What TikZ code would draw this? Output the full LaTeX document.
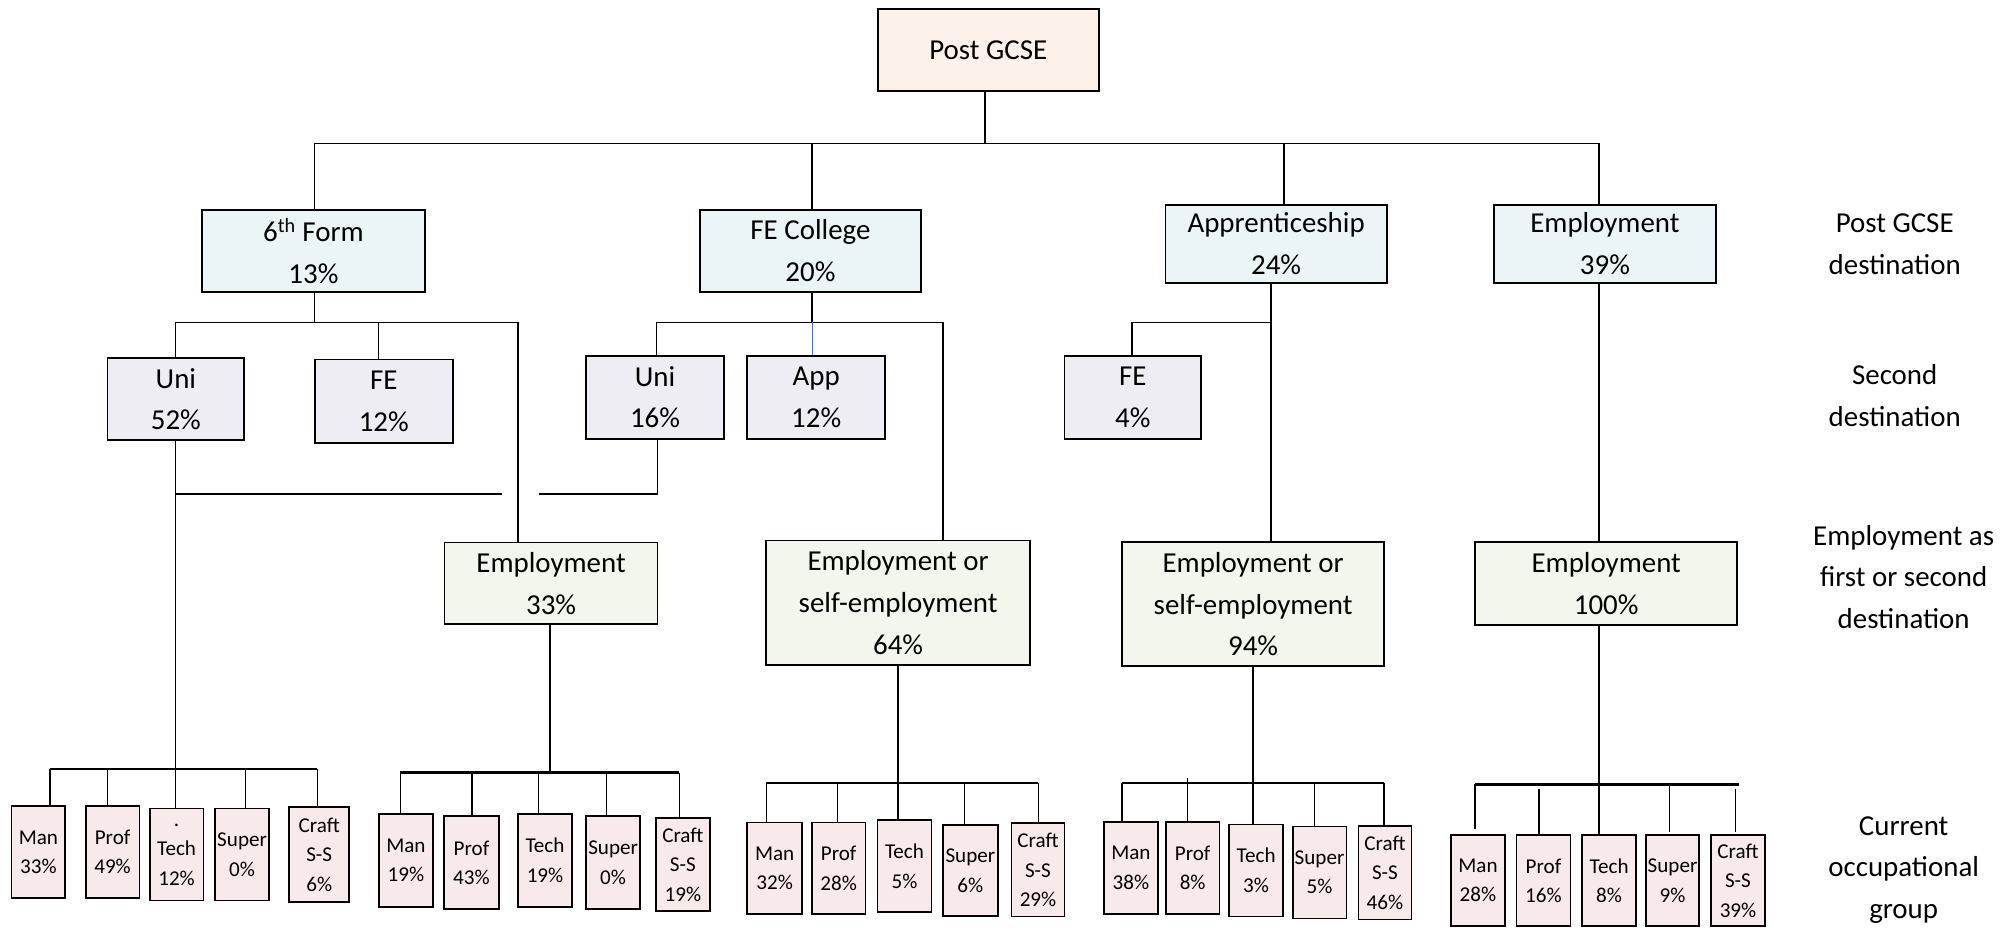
\documentclass[tikz,border=0pt]{standalone}
\usepackage{fontspec}
\setmainfont{Carlito}
\definecolor{peach}{HTML}{FDF2E9}
\definecolor{lblue}{HTML}{EBF4F7}
\definecolor{lav}{HTML}{EFEDF4}
\definecolor{lgreen}{HTML}{F2F6EC}
\definecolor{pinkc}{HTML}{F8EAEA}
\definecolor{linkblue}{HTML}{4472C4}
\begin{document}
\begin{tikzpicture}[x=1pt,y=-1pt,
  sz/.style 2 args={minimum width=#1pt,minimum height=#2pt},
  box/.style={draw=black,line width=1.4pt,inner sep=0pt,align=center,anchor=center},
  big/.style={box,font=\fontsize{22.6}{32.5}\selectfont},
  small/.style={box,font=\fontsize{16.5}{23}\selectfont,fill=pinkc,line width=1.3pt},
  lab/.style={inner sep=0pt,align=center,font=\fontsize{22.6}{32.5}\selectfont},
  conn/.style={draw=black,line width=1.2pt},
  barline/.style={draw=black,line width=2pt}]
\useasboundingbox (0,0) rectangle (1568,726);

% ---------- boxes ----------
\node[big,fill=peach,sz={173}{64}] (post) at (772.5,39) {Post GCSE};
\node[big,fill=lblue,sz={174}{64}] (sixth) at (245,196) {6\textsuperscript{th} Form\\13\%};
\node[big,fill=lblue,sz={173}{64}] (fecol) at (633.5,196) {FE College\\20\%};
\node[big,fill=lblue,sz={173}{61}] (appr) at (997.5,190.5) {Apprenticeship\\24\%};
\node[big,fill=lblue,sz={173}{61}] (empl) at (1254.5,190.5) {Employment\\39\%};

\node[big,fill=lav,sz={107}{64}] (uniA) at (137.5,312) {Uni\\52\%};
\node[big,fill=lav,sz={108}{65}] (feA) at (300,313.5) {FE\\12\%};
\node[big,fill=lav,sz={108}{65}] (uniB) at (512,310.5) {Uni\\16\%};
\node[big,fill=lav,sz={108}{65}] (app) at (638,310.5) {App\\12\%};
\node[big,fill=lav,sz={107}{65}] (feC) at (885.5,310.5) {FE\\4\%};

\node[big,fill=lgreen,sz={166.5}{64}] (empA) at (430.75,456) {Employment\\33\%};
\node[big,fill=lgreen,sz={206}{97}] (empB) at (702,471) {Employment or\\self-employment\\64\%};
\node[big,fill=lgreen,sz={205}{97}] (empC) at (979.5,472.3) {Employment or\\self-employment\\94\%};
\node[big,fill=lgreen,sz={205}{64.6}] (empD) at (1255.5,456) {Employment\\100\%};

% group 1
\node[small,sz={42}{72}] (a1) at (30,666) {Man\\33\%};
\node[small,sz={42}{72}] (a2) at (88,666) {Prof\\49\%};
\node[small,sz={42}{72}] (a3) at (138,668) {.\\Tech\\12\%};
\node[small,sz={42}{72}] (a4) at (189.25,668) {Super\\0\%};
\node[small,sz={47}{74}] (a5) at (249.5,668) {Craft\\S-S\\6\%};
% group 2
\node[small,sz={42.5}{73}] (b1) at (317.25,672.5) {Man\\19\%};
\node[small,sz={43}{72.5}] (b2) at (368.5,674.25) {Prof\\43\%};
\node[small,sz={42}{73}] (b3) at (426,672.5) {Tech\\19\%};
\node[small,sz={42.5}{72.5}] (b4) at (479.25,674.25) {Super\\0\%};
\node[small,sz={42.5}{72.6}] (b5) at (533.75,675.7) {Craft\\S-S\\19\%};
% group 3
\node[small,sz={43}{71.5}] (c1) at (605.5,678.75) {Man\\32\%};
\node[small,sz={42}{71.5}] (c2) at (655.5,678.75) {Prof\\28\%};
\node[small,sz={42}{72}] (c3) at (707,677) {Tech\\5\%};
\node[small,sz={43}{71}] (c4) at (758.5,680.5) {Super\\6\%};
\node[small,sz={41.3}{73}] (c5) at (811.35,680) {Craft\\S-S\\29\%};
% group 4
\node[small,sz={42}{72.2}] (d1) at (884,678.4) {Man\\38\%};
\node[small,sz={42}{72.2}] (d2) at (932.25,678.4) {Prof\\8\%};
\node[small,sz={42.3}{72}] (d3) at (981.85,680.35) {Tech\\3\%};
\node[small,sz={42}{72}] (d4) at (1031.45,682) {Super\\5\%};
\node[small,sz={41.5}{73}] (d5) at (1082.55,682.2) {Craft\\S-S\\46\%};
% group 5
\node[small,sz={42.5}{71}] (e1) at (1155.25,688.3) {Man\\28\%};
\node[small,sz={42}{71}] (e2) at (1206.45,688.3) {Prof\\16\%};
\node[small,sz={42}{71}] (e3) at (1257.75,688.3) {Tech\\8\%};
\node[small,sz={41.3}{71}] (e4) at (1307.35,688.3) {Super\\9\%};
\node[small,sz={41.8}{71}] (e5) at (1358.5,688.3) {Craft\\S-S\\39\%};

% ---------- side labels ----------
\node[lab] (labA) at (1481,191) {Post GCSE\\destination};
\node[lab] (labB) at (1481,309) {Second\\destination};
\node[lab] (labC) at (1488,451) {Employment as\\first or second\\destination};
\node[lab] (labD) at (1488,680) {Current\\occupational\\group};

% ---------- connectors: top ----------
\coordinate (t0) at (770,112);
\coordinate (t1) at (246,112);
\coordinate (t2) at (634.5,112);
\coordinate (t3) at (1003.5,112);
\coordinate (t4) at (1250,112);
\draw[conn] (t0 |- post.south) -- (t0);
\draw[conn] (t1) -- (t4);
\draw[conn] (t1) -- (t1 |- sixth.north);
\draw[conn] (t2) -- (t2 |- fecol.north);
\draw[conn] (t3) -- (t3 |- appr.north);
\draw[conn] (t4) -- (t4 |- empl.north);

% 6th form subtree
\coordinate (s0) at (246,252);
\coordinate (s1) at (137,252);
\coordinate (s2) at (296,252);
\coordinate (s3) at (405,252);
\draw[conn] (s0 |- sixth.south) -- (s0);
\draw[conn] (s1) -- (s3);
\draw[conn] (s1) -- (s1 |- uniA.north);
\draw[conn] (s2) -- (s2 |- feA.north);
\draw[conn] (s3) -- (s3 |- empA.north);

% Uni links to group 1
\coordinate (u1) at (137,386);
\coordinate (u2) at (392,386);
\coordinate (u3) at (421,386);
\coordinate (u4) at (514,386);
\draw[conn] (u1 |- uniA.south) -- (u1);
\draw[conn] (u1) -- (u2);
\draw[conn] (u3) -- (u4) -- (u4 |- uniB.south);

% FE college subtree
\coordinate (f0) at (634.5,252);
\coordinate (f1) at (513,252);
\coordinate (f2) at (635,252);
\coordinate (f3) at (737,252);
\draw[conn] (f0 |- fecol.south) -- (f0);
\draw[conn] (f1) -- (f3);
\draw[conn] (f1) -- (f1 |- uniB.north);
\draw[draw=linkblue,line width=1pt] (f2) -- (f2 |- app.north);
\draw[conn] (f3) -- (f3 |- empB.north);

% Apprenticeship subtree
\coordinate (p0) at (993.5,252);
\coordinate (p1) at (885,252);
\draw[conn] (p0 |- appr.south) -- (p0 |- empC.north);
\draw[conn] (p1) -- (p0);
\draw[conn] (p1) -- (p1 |- feC.north);

% Employment
\draw[conn] (empl.south -| t4) -- (empD.north -| t4);

% ---------- group 1 ----------
\coordinate (g1a) at (39,601);
\coordinate (g1b) at (84,601);
\coordinate (g1c) at (137,601);
\coordinate (g1d) at (192,601);
\coordinate (g1e) at (248,601);
\draw[barline] (g1a) -- (g1e);
\draw[conn] (u1) -- (g1c) -- (g1c |- a3.north);
\draw[conn] (g1a) -- (g1a |- a1.north);
\draw[conn] (g1b) -- (g1b |- a2.north);
\draw[conn] (g1d) -- (g1d |- a4.north);
\draw[conn] (g1e) -- (g1e |- a5.north);

% ---------- group 2 ----------
\coordinate (g2a) at (313,604);
\coordinate (g2b) at (369,604);
\coordinate (g2c) at (421,604);
\coordinate (g2d) at (474,604);
\coordinate (g2e) at (531,604);
\coordinate (g2m) at (430,604);
\draw[barline] (g2a) -- (g2e);
\draw[conn] (g2m |- empA.south) -- (g2m);
\draw[conn] (g2a) -- (g2a |- b1.north);
\draw[conn] (g2b) -- (g2b |- b2.north);
\draw[conn] (g2c) -- (g2c |- b3.north);
\draw[conn] (g2d) -- (g2d |- b4.north);
\draw[conn] (g2e) -- (g2e |- b5.north);

% ---------- group 3 ----------
\coordinate (g3a) at (599,612);
\coordinate (g3b) at (654.5,612);
\coordinate (g3c) at (702,612);
\coordinate (g3d) at (754,612);
\coordinate (g3e) at (811.6,612);
\draw[barline] (g3a) -- (g3e);
\draw[conn] (g3c |- empB.south) -- (g3c |- c3.north);
\draw[conn] (g3a) -- (g3a |- c1.north);
\draw[conn] (g3b) -- (g3b |- c2.north);
\draw[conn] (g3d) -- (g3d |- c4.north);
\draw[conn] (g3e) -- (g3e |- c5.north);

% ---------- group 4 ----------
\coordinate (g4a) at (877,612);
\coordinate (g4b) at (928.2,608.4);
\coordinate (g4c) at (979.6,612);
\coordinate (g4d) at (1027.5,612);
\coordinate (g4e) at (1082,612);
\draw[barline] (g4a) -- (g4e);
\draw[conn] (g4c |- empC.south) -- (g4c |- d3.north);
\draw[conn] (g4a) -- (g4a |- d1.north);
\draw[conn] (g4b) -- (g4b |- d2.north);
\draw[conn] (g4d) -- (g4d |- d4.north);
\draw[conn] (g4e) -- (g4e |- d5.north);

% ---------- group 5 ----------
\coordinate (g5a) at (1153,613);
\coordinate (g5c) at (1250,613);
\coordinate (g5z) at (1359,613);
\coordinate (g5a2) at (1153,648);
\coordinate (g5b) at (1203,617);
\coordinate (g5d) at (1305,613);
\coordinate (g5d2) at (1305,650);
\coordinate (g5e) at (1356.5,617);
\coordinate (g5e2) at (1356.5,650);
\draw[barline] (g5a) -- (g5z);
\draw[conn] (g5c |- empD.south) -- (g5c |- e3.north);
\draw[conn] (g5a) -- (g5a2);
\draw[conn] (g5b) -- (g5b |- e2.north);
\draw[conn] (g5d) -- (g5d2);
\draw[conn] (g5e) -- (g5e2);
\end{tikzpicture}
\end{document}
